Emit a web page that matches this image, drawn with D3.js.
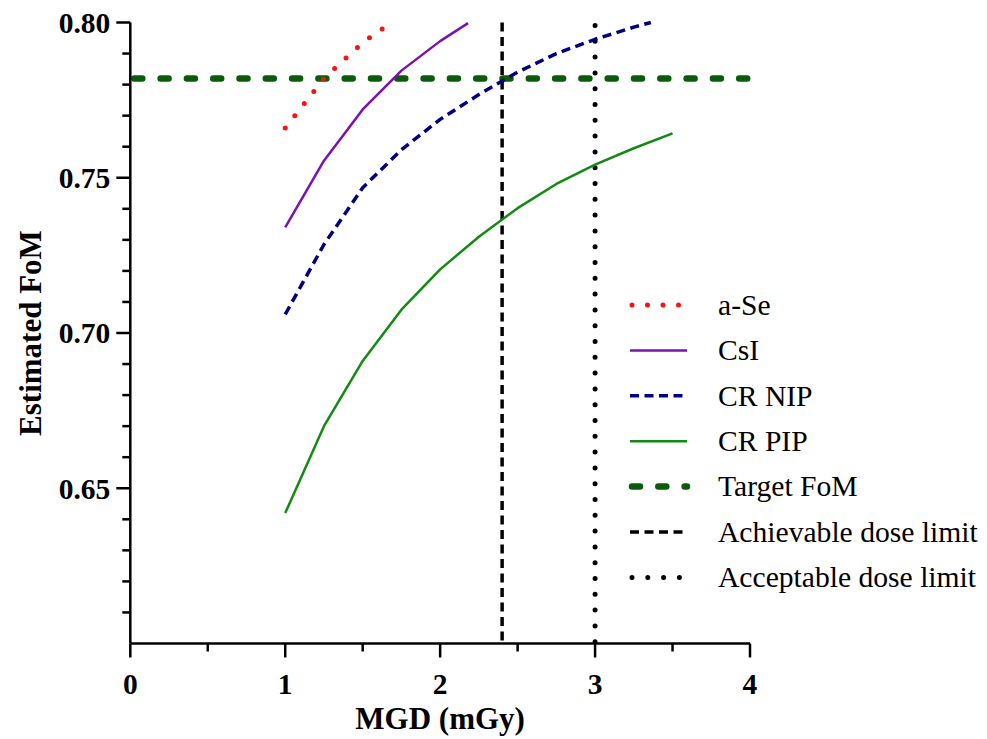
<!DOCTYPE html>
<html>
<head>
<meta charset="utf-8">
<script src="https://cdn.jsdelivr.net/npm/d3@7"></script>
<style>
  html, body { margin: 0; padding: 0; background: #fff; }
  svg { display: block; }
  text { font-family: "Liberation Serif", "Times New Roman", serif; fill: #000; }
</style>
</head>
<body>
<svg id="chart" width="987" height="739"></svg>
<script>
// Estimated figure of merit versus mean glandular dose for four detector types
const doseASe  = [1, 1.25, 1.5, 1.65];
const fomASe   = [0.766, 0.782, 0.7935, 0.7988];

const doseCsI  = [1, 1.25, 1.5, 1.75, 2, 2.18];
const fomCsI   = [0.734, 0.7555, 0.772, 0.7845, 0.794, 0.7998];

const doseNIP  = [1, 1.25, 1.5, 1.75, 2, 2.25, 2.5, 2.75, 3, 3.25, 3.36];
const fomNIP   = [0.706, 0.7285, 0.7468, 0.759, 0.7688, 0.7768, 0.784, 0.790, 0.7946, 0.7985, 0.800];

const dosePIP  = [1, 1.25, 1.5, 1.75, 2, 2.25, 2.5, 2.75, 3, 3.25, 3.5];
const fomPIP   = [0.642, 0.670, 0.691, 0.7075, 0.7205, 0.731, 0.7402, 0.748, 0.7542, 0.7595, 0.7643];

const targetFoM = 0.782;
const achievableDose = 2.4;
const acceptableDose = 3;

const xTicks = [0, 1, 2, 3, 4];
const yTicks = [0.65, 0.70, 0.75, 0.80];

const legendLabels = ["a-Se", "CsI", "CR NIP", "CR PIP", "Target FoM", "Achievable dose limit", "Acceptable dose limit"];

// Line styles
const styles = {
  ase:    { stroke: "#ff1010", width: 5, dash: "0,15.5", cap: "round" },
  csi:    { stroke: "#7a12b0", width: 2.5, dash: null, cap: "butt" },
  nip:    { stroke: "#000080", width: 3.5, dash: "9,5.5", cap: "butt" },
  pip:    { stroke: "#138a13", width: 2.5, dash: null, cap: "butt" },
  target: { stroke: "#0a5c0a", width: 6.5, dash: "8,18.3", cap: "round" },
  achv:   { stroke: "#000000", width: 3.5, dash: "9,5.5", cap: "butt" },
  accp:   { stroke: "#000000", width: 5, dash: "0,15.8", cap: "round" }
};

const svg = d3.select("#chart");
const margin = { left: 130.3, top: 22.5, right: 237, bottom: 95.5 };
const W = 987 - margin.left - margin.right;   // 620
const H = 739 - margin.top - margin.bottom;   // 621

const x = d3.scaleLinear().domain([0, 4]).range([0, W]);
const y = d3.scaleLinear().domain([0.60, 0.80]).range([H, 0]);

const g = svg.append("g").attr("transform", `translate(${margin.left},${margin.top})`);

svg.append("defs").append("clipPath").attr("id", "plotClip")
  .append("rect").attr("x", 0).attr("y", -4).attr("width", W + 4).attr("height", H + 4);

const plot = g.append("g").attr("clip-path", "url(#plotClip)");

function applyStyle(sel, s) {
  sel.attr("fill", "none")
    .attr("stroke", s.stroke)
    .attr("stroke-width", s.width)
    .attr("stroke-linecap", s.cap)
    .attr("stroke-linejoin", "round");
  if (s.dash) sel.attr("stroke-dasharray", s.dash);
  return sel;
}

const line = d3.line().x(d => x(d[0])).y(d => y(d[1]));

// Reference lines
applyStyle(plot.append("line")
  .attr("x1", x(0) + 4).attr("x2", x(4)).attr("y1", y(targetFoM)).attr("y2", y(targetFoM)), styles.target);
applyStyle(plot.append("line")
  .attr("x1", x(achievableDose)).attr("x2", x(achievableDose)).attr("y1", y(0.80)).attr("y2", y(0.60)), styles.achv);
applyStyle(plot.append("line")
  .attr("x1", x(acceptableDose)).attr("x2", x(acceptableDose)).attr("y1", y(0.80) + 3).attr("y2", y(0.60)), styles.accp);

// Detector curves
const series = [
  { xs: dosePIP, ys: fomPIP, s: styles.pip },
  { xs: doseNIP, ys: fomNIP, s: styles.nip },
  { xs: doseCsI, ys: fomCsI, s: styles.csi },
  { xs: doseASe, ys: fomASe, s: styles.ase }
];
series.forEach(ser => {
  const pts = ser.xs.map((d, i) => [d, ser.ys[i]]);
  applyStyle(plot.append("path").attr("d", line(pts)), ser.s);
});

// Axes
const axisStroke = 2.5;
const xAxis = g.append("g").attr("transform", `translate(0,${H})`);
xAxis.append("line").attr("x1", 0).attr("x2", x(4)).attr("stroke", "#000").attr("stroke-width", axisStroke);
xAxis.selectAll(".minor").data(d3.range(0, 4.01, 0.5)).join("line")
  .attr("x1", d => x(d)).attr("x2", d => x(d))
  .attr("y1", 0).attr("y2", d => Number.isInteger(d) ? 14 : 8)
  .attr("stroke", "#000").attr("stroke-width", axisStroke);
xAxis.selectAll(".lbl").data(xTicks).join("text")
  .attr("x", d => x(d)).attr("y", 50)
  .attr("text-anchor", "middle")
  .attr("font-size", 29.5).attr("font-weight", "bold")
  .text(d => d);

const yAxis = g.append("g");
yAxis.append("line").attr("y1", y(0.60)).attr("y2", y(0.80)).attr("stroke", "#000").attr("stroke-width", axisStroke);
const yMinor = d3.range(60, 81).map(v => v / 100);
yAxis.selectAll(".tick").data(yMinor).join("line")
  .attr("y1", d => y(d)).attr("y2", d => y(d))
  .attr("x1", d => (Math.round(d * 100) % 5 === 0 && d > 0.6) ? -14 : -8).attr("x2", 0)
  .attr("stroke", "#000").attr("stroke-width", axisStroke)
  .filter(d => d === 0.60).remove();
yAxis.selectAll(".lbl").data(yTicks).join("text")
  .attr("x", -20).attr("y", d => y(d)).attr("dy", "0.35em")
  .attr("text-anchor", "end")
  .attr("font-size", 29.5).attr("font-weight", "bold")
  .text(d => d.toFixed(2));

// Axis titles
svg.append("text")
  .attr("x", margin.left + W / 2).attr("y", 729)
  .attr("text-anchor", "middle")
  .attr("font-size", 31).attr("font-weight", "bold")
  .text("MGD (mGy)");
svg.append("text")
  .attr("transform", `translate(41,${margin.top + H / 2}) rotate(-90)`)
  .attr("text-anchor", "middle")
  .attr("font-size", 31).attr("font-weight", "bold")
  .text("Estimated FoM");

// Legend
const legendStyles = [styles.ase, styles.csi, styles.nip, styles.pip, styles.target, styles.achv, styles.accp];
const legend = svg.append("g").attr("transform", "translate(630,305)");
legendLabels.forEach((lab, i) => {
  const row = legend.append("g").attr("transform", `translate(0,${i * 45.4})`);
  const s = legendStyles[i];
  const sample = row.append("line").attr("x1", s.cap === "round" ? 2 : 0).attr("x2", 57).attr("y1", 0).attr("y2", 0);
  applyStyle(sample, s);
  row.append("text").attr("x", 88).attr("y", 0).attr("dy", "0.33em")
    .attr("font-size", 29.6).text(lab);
});
</script>
</body>
</html>
